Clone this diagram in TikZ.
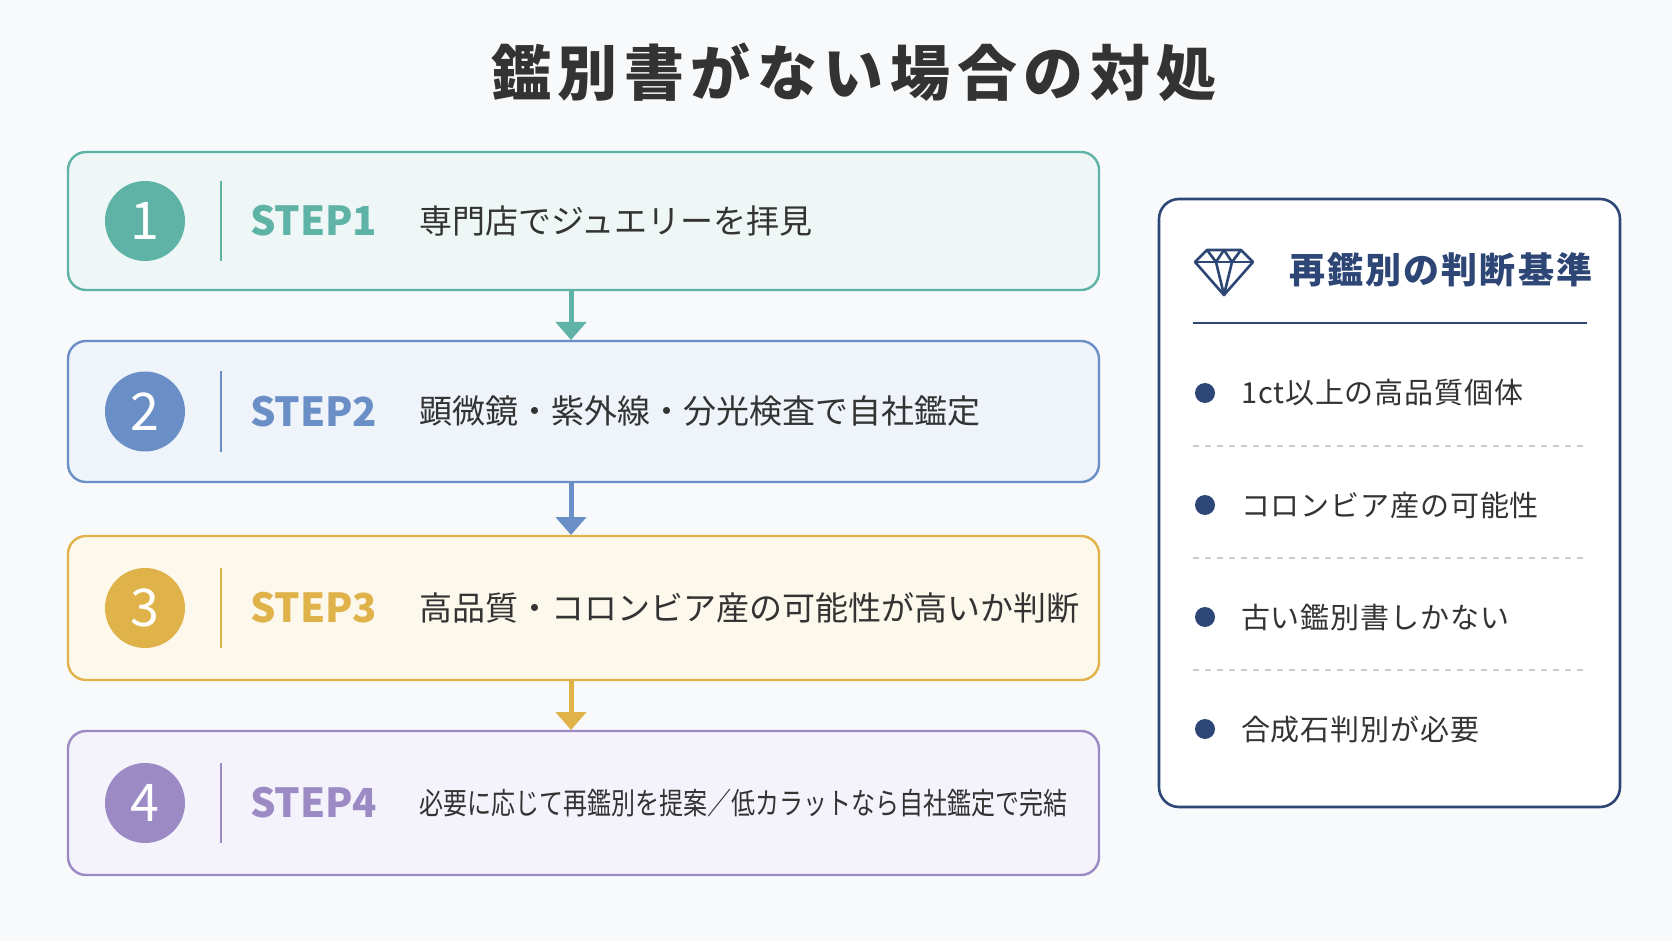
\documentclass[tikz,border=0pt]{standalone}
\usepackage{fontspec}
\setmainfont{Noto Sans CJK JP}
\usetikzlibrary{arrows.meta}
\definecolor{bg}{HTML}{F8F9FA}
\definecolor{cA}{HTML}{5FB3A6}\definecolor{fcA}{HTML}{EEF7F5}
\definecolor{cB}{HTML}{6A8FC6}\definecolor{fcB}{HTML}{EFF3FA}
\definecolor{cC}{HTML}{E0B24A}\definecolor{fcC}{HTML}{FDF8EC}
\definecolor{cD}{HTML}{9B8AC4}\definecolor{fcD}{HTML}{F4F2FA}
\definecolor{navy}{HTML}{2D4676}
\definecolor{txt}{HTML}{333333}
\tikzset{
 box/.style={draw=#1,line width=1.2pt,rounded corners=9pt,fill=f#1},
 num/.style={circle,fill=#1,minimum size=40pt,inner sep=0,text=white,font=\fontsize{26}{26}\selectfont},
 steplab/.style={anchor=west,text=#1,font=\fontsize{20}{20}\selectfont\bfseries},
 desc/.style={anchor=west,text=txt,font=\fontsize{16.5}{16.5}\selectfont},
 arr/.style={draw=#1,line width=2.5pt,-{Triangle[length=9pt,width=15pt]}},
 item/.style={anchor=west,text=txt,font=\fontsize{14.5}{14.5}\selectfont\addfontfeature{LetterSpace=3}},
}
\begin{document}
\begin{tikzpicture}[x=0.5pt,y=-0.5pt]
\fill[bg] (0,0) rectangle (1672,941);
\useasboundingbox (0,0) rectangle (1672,941);
\node[text=txt,font=\fontsize{30}{30}\selectfont\bfseries\addfontfeature{LetterSpace=11}] (title) at (854,72) {鑑別書がない場合の対処};
\foreach \n/\c/\t/\b/\s/\d in {1/cA/152/290/STEP1/専門店でジュエリーを拝見,2/cB/341/482/STEP2/顕微鏡・紫外線・分光検査で自社鑑定,3/cC/536/680/STEP3/高品質・コロンビア産の可能性が高いか判断}{
 \draw[box=\c] (68,\t) rectangle (1099,\b);
 \node[num=\c] (n\n) at (145,{(\t+\b)/2}) {\n};
 \draw[\c,line width=1pt] (221,{(\t+\b)/2-40}) -- (221,{(\t+\b)/2+40});
 \node[steplab=\c] (s\n) at (243,{(\t+\b)/2}) {\s};
 \node[desc] (d\n) at (412,{(\t+\b)/2}) {\d};
}
\draw[box=cD] (68,731) rectangle (1099,875);
\node[num=cD] (n4) at (145,803) {4};
\draw[cD,line width=1pt] (221,763) -- (221,843);
\node[steplab=cD] (s4) at (243,803) {STEP4};
\node[desc,font=\fontsize{15}{15}\selectfont] (d4) at (412,803) {\scalebox{0.8}[1]{必要に応じて再鑑別を提案／低カラットなら自社鑑定で完結}};
\coordinate (a1) at (571,290);\coordinate (b1) at (571,340);
\coordinate (a2) at (571,482);\coordinate (b2) at (571,535);
\coordinate (a3) at (571,680);\coordinate (b3) at (571,730);
\draw[arr=cA] (a1) -- (b1);
\draw[arr=cB] (a2) -- (b2);
\draw[arr=cC] (a3) -- (b3);
\draw[navy,line width=1.3pt,rounded corners=10pt,fill=white] (1159,199) rectangle (1620,807);
\begin{scope}[shift={(1224,270)},navy,line width=1.3pt,line join=round]
\draw (-29,-8) -- (-17,-20) -- (17,-20) -- (29,-8) -- (0,25) -- cycle;
\draw (-29,-8) -- (29,-8);
\draw (-17,-20) -- (-8,-8) -- (0,-20) -- (8,-8) -- (17,-20);
\draw (-8,-8) -- (0,25) -- (8,-8);
\end{scope}
\node[anchor=west,text=navy,font=\fontsize{18}{18}\selectfont\bfseries\addfontfeature{LetterSpace=6}] (head) at (1282,270) {再鑑別の判断基準};
\draw[navy,line width=1pt] (1193,323) -- (1587,323);
\foreach \y/\t in {393/1ct以上の高品質個体,505/コロンビア産の可能性,617/古い鑑別書しかない,729/合成石判別が必要}{
 \fill[navy] (1205,\y) circle (5pt);
 \node[item] at (1234,\y) {\t};
}
\foreach \y in {446,558,670}{\draw[gray!40,dashed,line width=0.8pt] (1193,\y) -- (1587,\y);}
\end{tikzpicture}
\end{document}
